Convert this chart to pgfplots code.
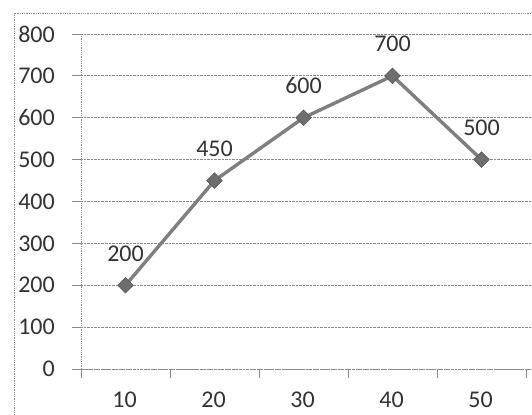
\documentclass[border=0pt]{standalone}
\usepackage{pgfplots}
\pgfplotsset{compat=1.18}
\usepackage{fontspec}
\setmainfont{Carlito}
\definecolor{txt}{HTML}{333333}
\definecolor{gridc}{HTML}{8A8A8A}
\definecolor{linec}{HTML}{7F7F7F}
\definecolor{markc}{HTML}{6E6E6E}
\begin{document}
\begin{tikzpicture}[x=1bp,y=1bp]
\path[use as bounding box] (-81bp,-46bp) rectangle (451bp,369bp);
\draw[gridc, densely dotted, line width=0.8bp] (-67bp,-60bp) -- (-67bp,356bp) -- (470bp,356bp);
\begin{axis}[
  at={(0,0)}, anchor=south west,
  scale only axis, width=451bp, height=335bp,
  xmin=-0.5, xmax=4.567, ymin=0, ymax=800,
  axis lines*=left,
  axis line style={gridc, densely dotted, line width=0.8bp, -},
  xtick={-0.5,0.5,1.5,2.5,3.5,4.5},
  xticklabels={10,20,30,40,50},
  x tick label as interval,
  ytick={0,100,...,800},
  ymajorgrids,
  grid style={gridc, densely dotted, line width=0.8bp},
  tick style={gridc, line width=0.8bp},
  tick align=outside,
  major tick length=9bp,
  /pgf/number format/assume math mode=true,
  tick label style={font=\fontsize{24bp}{28bp}\selectfont, text=txt},
  yticklabel style={inner sep=0pt, anchor=east, xshift=-17bp},
  xticklabel style={inner sep=0pt, anchor=base, yshift=-29bp, xshift=-1bp},
  clip=false,
  nodes near coords,
  nodes near coords style={font=\fontsize{24bp}{28bp}\selectfont, text=txt, anchor=base, inner sep=0pt, yshift=24bp},
]
\addplot[color=linec, line width=3.4bp, sharp plot,
  mark=square*, mark size=5.5bp, mark options={rotate=45, fill=markc, draw=markc!80!black, line width=0.6bp}]
  coordinates {(0,200) (1,450) (2,600) (3,700) (4,500)};
\end{axis}
\end{tikzpicture}
\end{document}
